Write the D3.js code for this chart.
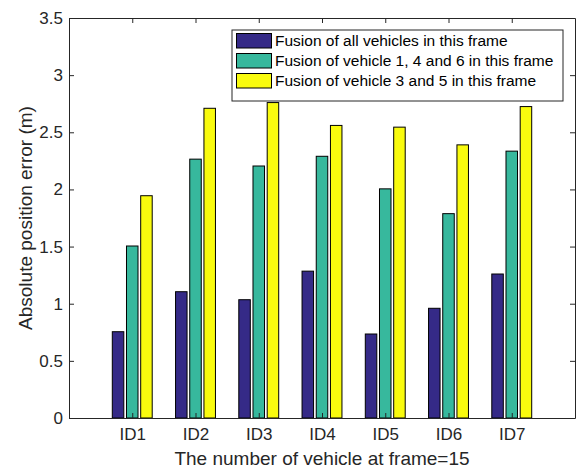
<!DOCTYPE html>
<html>
<head>
<meta charset="utf-8">
<script src="https://cdn.jsdelivr.net/npm/d3@7"></script>
<style>
  body { margin: 0; background: #fff; }
  svg { display: block; font-family: "Liberation Sans", Arial, Helvetica, sans-serif; }
</style>
</head>
<body>
<svg id="chart" width="581" height="473"></svg>
<script>
const categories = ["ID1", "ID2", "ID3", "ID4", "ID5", "ID6", "ID7"];
const seriesNames = [
  "Fusion of all vehicles in this frame",
  "Fusion of vehicle 1, 4 and 6 in this frame",
  "Fusion of vehicle 3 and 5 in this frame"
];
const allVehicles = [0.755, 1.105, 1.035, 1.285, 0.735, 0.96, 1.26];
const vehicles146 = [1.505, 2.265, 2.205, 2.29, 2.005, 1.788, 2.335];
const vehicles35  = [1.945, 2.71, 2.76, 2.56, 2.545, 2.39, 2.725];
const seriesColors = ["#352a87", "#37b89d", "#f9fb0e"];
const yTicks = [0, 0.5, 1, 1.5, 2, 2.5, 3, 3.5];
const yTickLabels = ["0", "0.5", "1", "1.5", "2", "2.5", "3", "3.5"];
const xLabel = "The number of vehicle at frame=15";
const yLabel = "Absolute position error (m)";

const series = [allVehicles, vehicles146, vehicles35];

const svg = d3.select("#chart");
const mLeft = 69, mRight = 575, mTop = 18, mBottom = 418;
const axisColor = "#262626";

const x = d3.scaleLinear().domain([0, categories.length + 1]).range([mLeft, mRight]);
const y = d3.scaleLinear().domain([0, 3.5]).range([mBottom, mTop]);

const barOffset = 0.2245; // in category units
const barWidth = x(0.182) - x(0);

// bars
series.forEach((vals, si) => {
  svg.append("g").selectAll("rect")
    .data(vals)
    .join("rect")
    .attr("x", (d, i) => x(i + 1 + (si - 1) * barOffset) - barWidth / 2)
    .attr("y", d => y(d))
    .attr("width", barWidth)
    .attr("height", d => y(0) - y(d))
    .attr("fill", seriesColors[si])
    .attr("stroke", "#000")
    .attr("stroke-width", 1);
});

// axes
const tickLen = 5;
const fontTick = 17;

const yAxisL = d3.axisLeft(y).tickValues(yTicks).tickFormat((d, i) => yTickLabels[i]).tickSizeInner(-tickLen).tickSizeOuter(0).tickPadding(6);
const yAxisR = d3.axisRight(y).tickValues(yTicks).tickFormat("").tickSizeInner(-tickLen).tickSizeOuter(0);
const xAxisB = d3.axisBottom(x).tickValues(d3.range(1, categories.length + 1)).tickFormat((d) => categories[d - 1]).tickSizeInner(-tickLen).tickSizeOuter(0).tickPadding(10);
const xAxisT = d3.axisTop(x).tickValues(d3.range(1, categories.length + 1)).tickFormat("").tickSizeInner(-tickLen).tickSizeOuter(0);

function style(g) {
  g.selectAll("path").attr("stroke", axisColor).attr("stroke-width", 1);
  g.selectAll("line").attr("stroke", axisColor).attr("stroke-width", 1);
  g.selectAll("text").attr("fill", axisColor).attr("font-size", fontTick).attr("font-family", null);
}

svg.append("g").attr("transform", `translate(${mLeft},0)`).call(yAxisL).call(style);
svg.append("g").attr("transform", `translate(${mRight},0)`).call(yAxisR).call(style);
svg.append("g").attr("transform", `translate(0,${mBottom})`).call(xAxisB).call(style);
svg.append("g").attr("transform", `translate(0,${mTop})`).call(xAxisT).call(style);

// axis labels
svg.append("text")
  .attr("x", (mLeft + mRight) / 2)
  .attr("y", 465)
  .attr("text-anchor", "middle")
  .attr("font-size", 19)
  .attr("fill", axisColor)
  .text(xLabel);

svg.append("text")
  .attr("transform", `translate(32,${(mTop + mBottom) / 2}) rotate(-90)`)
  .attr("text-anchor", "middle")
  .attr("font-size", 19)
  .attr("fill", axisColor)
  .text(yLabel);

// legend
const lg = svg.append("g");
lg.append("rect")
  .attr("x", 232).attr("y", 30).attr("width", 331).attr("height", 71)
  .attr("fill", "#fff").attr("stroke", axisColor).attr("stroke-width", 1);
seriesNames.forEach((name, i) => {
  const ry = 33.5 + i * 20;
  lg.append("rect")
    .attr("x", 236.5).attr("y", ry).attr("width", 35).attr("height", 14.5)
    .attr("fill", seriesColors[i]).attr("stroke", "#000").attr("stroke-width", 1);
  lg.append("text")
    .attr("x", 275).attr("y", ry + 12.5)
    .attr("font-size", 15.5)
    .attr("fill", "#000")
    .text(name);
});
</script>
</body>
</html>
